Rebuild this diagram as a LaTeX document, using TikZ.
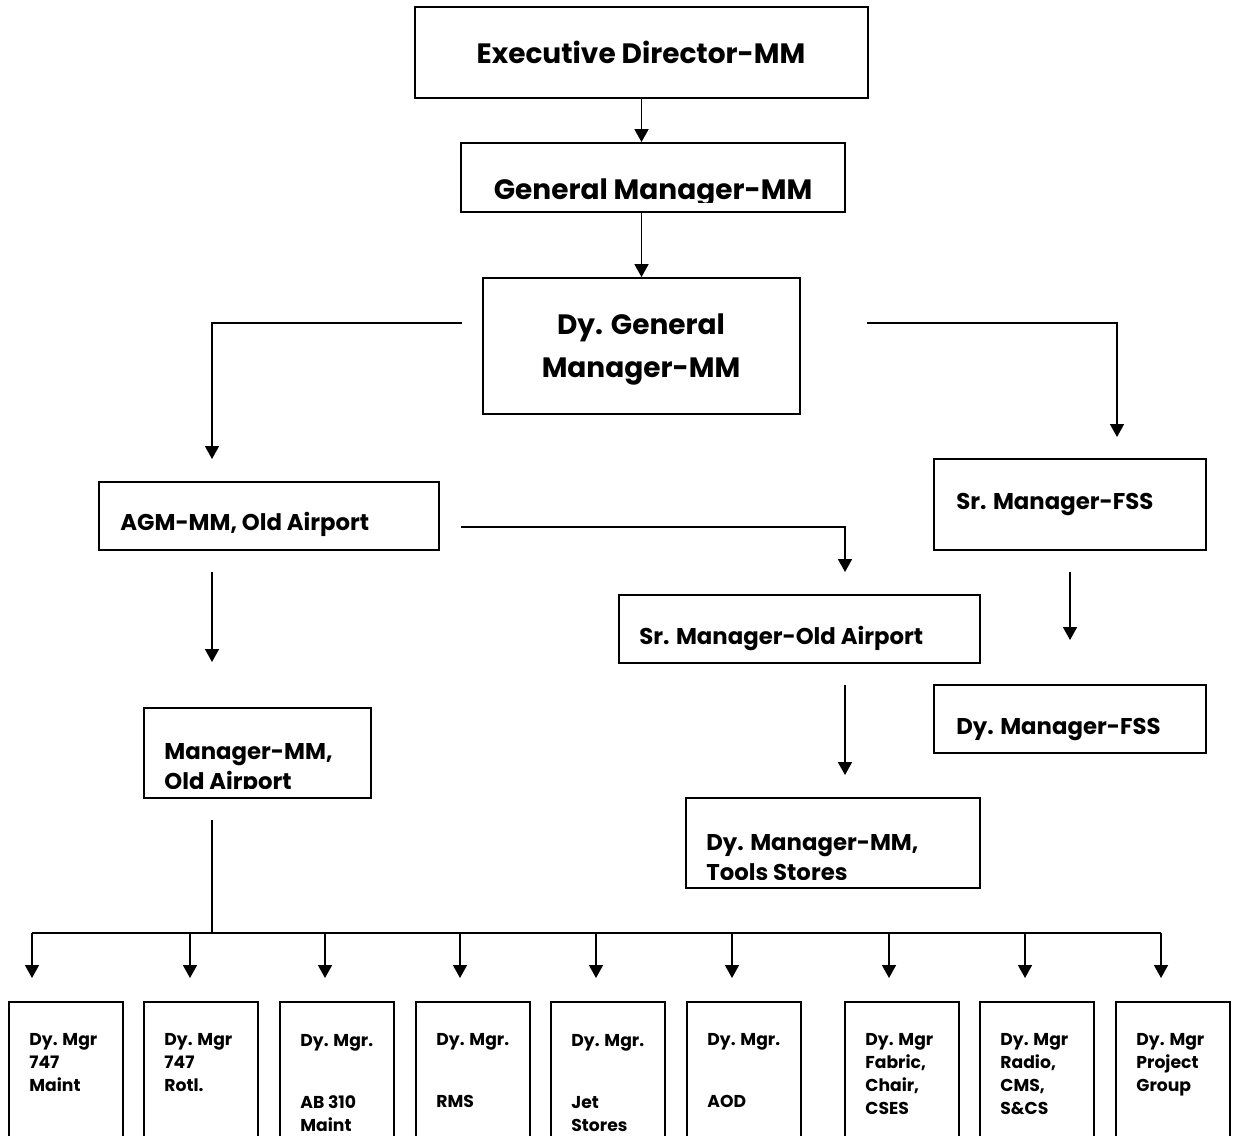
\documentclass[tikz,border=0pt]{standalone}
\usepackage{fontspec}
\usepackage{tikz}
\usetikzlibrary{arrows.meta,positioning,calc,fit}
\newfontfamily\orgfont{Poppins}

\tikzset{
  orgbox/.style={draw, line width=0.9pt, inner sep=0pt},
  headtext/.style={font=\orgfont\bfseries\fontsize{14}{21.5}\selectfont, inner sep=0pt, align=center, anchor=base},
  midtext/.style={font=\orgfont\bfseries\fontsize{11.4}{15}\selectfont, inner sep=0pt, align=left, anchor=base west},
  unittext/.style={font=\orgfont\bfseries\fontsize{8.6}{11.5}\selectfont, inner sep=0pt, align=left, anchor=base west},
  link/.style={line width=0.8pt, -{Triangle[length=6.5pt,width=7pt]}},
  bare/.style={line width=0.8pt}
}

\begin{document}
\begin{tikzpicture}[x=0.5pt,y=-0.5pt]
  \useasboundingbox (0,0) rectangle (1234,1135);
  \clip (0,0) rectangle (1234,1135);

  % top of the chart (multi-line texts sit on their last baseline)
  \node[orgbox, fit={(415,7) (868,98)}] (ed) {};
  \node[headtext] (edtext) at (641,63) {Executive Director-MM};
  \node[orgbox, fit={(461,143) (845,212)}] (gm) {};
  \begin{scope}
    \clip (461,143) rectangle (845,202);
    \node[headtext] (gmtext) at (653,199) {General Manager-MM};
  \end{scope}
  \node[orgbox, fit={(483,278) (800,414)}] (dgm) {};
  \node[headtext] (dgmtext) at (641,377) {Dy. General\\Manager-MM};

  \draw[link] (ed.south) -- (ed.south |- gm.north);
  \draw[link] (gm.south -| dgm.north) -- (dgm.north);

  % second level
  \node[orgbox, fit={(99,482) (439,550)}] (agm) {};
  \node[midtext] (agmtext) at (120,530) {AGM-MM, Old Airport};
  \node[orgbox, fit={(934,459) (1206,550)}] (srfss) {};
  \node[midtext] (srfsstext) at (956,509) {Sr. Manager-FSS};
  \node[orgbox, fit={(619,595) (980,663)}] (sroa) {};
  \node[midtext] (sroatext) at (639,644) {Sr. Manager-Old Airport};
  \node[orgbox, fit={(934,685) (1206,753)}] (dyfss) {};
  \node[midtext] (dyfsstext) at (956,734) {Dy. Manager-FSS};
  \node[orgbox, fit={(144,708) (371,798)}] (mgrmm) {};
  \begin{scope}
    \clip (144,708) rectangle (371,788);
    \node[midtext] (mgrmmtext) at (164,789) {Manager-MM,\\Old Airport};
  \end{scope}
  \node[orgbox, fit={(686,798) (980,888)}] (tools) {};
  \begin{scope}
    \clip (686,798) rectangle (980,879);
    \node[midtext] (toolstext) at (706,880) {Dy. Manager-MM,\\Tools Stores};
  \end{scope}

  % free ends of the connectors
  \coordinate (dgml) at (462,323);
  \coordinate (dgmr) at (867,323);
  \coordinate (agmin) at (212,459);
  \coordinate (fssin) at (1117,437);
  \coordinate (agmr) at (461,527);
  \coordinate (sroain) at (845,572);
  \coordinate (agmout) at (212,572);
  \coordinate (mgrin) at (212,662);
  \coordinate (fssout) at (1070,572);
  \coordinate (dyfssin) at (1070,640);
  \coordinate (sroaout) at (845,685);
  \coordinate (toolsin) at (845,775);
  \coordinate (mgrout) at (212,820);
  \coordinate (busl) at (32,933);
  \coordinate (busr) at (1161,933);

  \draw[link] (dgml) -| (agmin);
  \draw[link] (dgmr) -| (fssin);
  \draw[link] (agmr) -| (sroain);
  \draw[link] (agmout) -- (mgrin);
  \draw[link] (fssout) -- (dyfssin);
  \draw[link] (sroaout) -- (toolsin);
  \draw[bare] (mgrout) -- (mgrout |- busl);
  \draw[bare] (busl) -- (busr);

  % deputy managers: box left, arrow x, last baseline, text
  \foreach \bx/\ax/\by/\txt [count=\i] in {
      9/32/1091/{Dy. Mgr\\747\\Maint},
      144/190/1091/{Dy. Mgr\\747\\Rotl.},
      280/325/1131/{Dy. Mgr.\\[19.5pt]AB 310\\Maint},
      416/460/1107/{Dy. Mgr.\\[19.5pt]RMS},
      551/596/1131/{Dy. Mgr.\\[19.5pt]Jet\\Stores},
      687/732/1107/{Dy. Mgr.\\[19.5pt]AOD},
      845/889/1114/{Dy. Mgr\\Fabric,\\Chair,\\CSES},
      980/1025/1114/{Dy. Mgr\\Radio,\\CMS,\\S\&CS},
      1116/1161/1091/{Dy. Mgr\\Project\\Group}} {
    \node[orgbox, fit={(\bx,1002) (\bx+114,1150)}] (unit\i) {};
    \node[unittext] (unittext\i) at (\bx+20,\by) {\txt};
    \coordinate (drop\i) at (\ax,978);
    \draw[link] (drop\i |- busl) -- (drop\i);
  }
\end{tikzpicture}
\end{document}
